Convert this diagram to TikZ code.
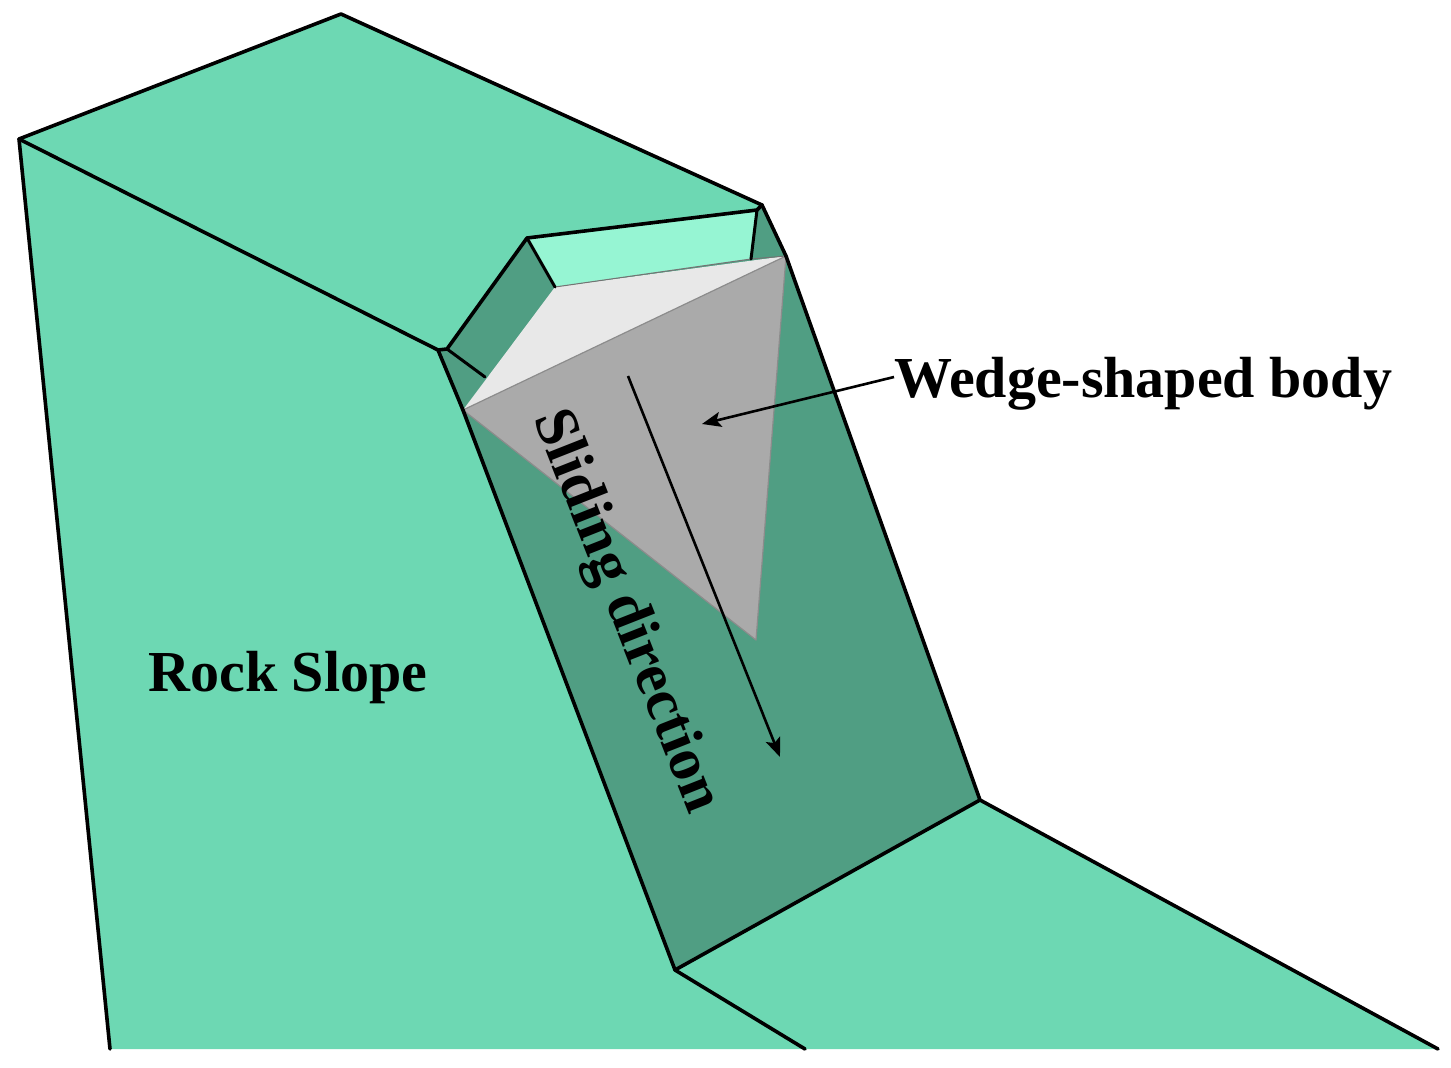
\documentclass[tikz,border=0pt]{standalone}
\usepackage{fontspec}
\setmainfont{Liberation Serif}
\usetikzlibrary{arrows.meta}
\tikzset{
  edge/.style={line width=3.6pt,black,line join=round,line cap=round},
  thinedge/.style={line width=3pt,black,line cap=round},
  lbl/.style={font=\fontsize{58}{64}\selectfont\bfseries,inner sep=0pt,text=black},
  lblrot/.style={font=\fontsize{60.5}{66}\selectfont\bfseries,inner sep=0pt,text=black},
  pointer/.style={line width=2.6pt,black,-{Stealth[length=19pt,width=15pt,inset=4pt]}},
}
\definecolor{slope}{HTML}{6DD8B3}
\definecolor{face}{HTML}{509E83}
\definecolor{bright}{HTML}{96F5D3}
\definecolor{wedgeD}{HTML}{AAAAAA}
\definecolor{wedgeL}{HTML}{E8E8E8}
\begin{document}
\begin{tikzpicture}[x=1pt,y=-1pt]
\useasboundingbox (0,0) rectangle (1451,1068);
\coordinate (A) at (19,139);
\coordinate (B) at (341,14);
\coordinate (C) at (762,205);
\coordinate (D) at (438,350);
\coordinate (E) at (980,800);
\coordinate (F) at (675,970);
\coordinate (G) at (805,1049);
\coordinate (H) at (110,1049);
\coordinate (I) at (1438,1049);
\coordinate (N1) at (527,238);
\coordinate (N2) at (757,210);
\coordinate (N3) at (751,259);
\coordinate (N4) at (555,287);
\coordinate (N5) at (447,349);
\coordinate (N6) at (485,377);
\coordinate (W1) at (463,410);
\coordinate (W2) at (786,256);
\coordinate (W3) at (756,640);
\coordinate (S1) at (628,376);
\coordinate (S2) at (780,757);
\coordinate (T1) at (702,424);
% faces
\fill[slope] (A)--(B)--(C)--(W2)--(E)--(I)--(G)--(H)--cycle;
\fill[face] (D)--(N5)--(N1)--(N2)--(C)--(W2)--(E)--(F)--cycle;
\fill[bright] (N1)--(N2)--(N3)--(N4)--cycle;
% wedge
\fill[wedgeL] (N4)--(W2)--(W1)--cycle;
\draw[black!55,line width=1pt] (N4)--(N3)--(W2);
\fill[wedgeD] (W1)--(W2)--(W3)--cycle;
\draw[black!45,line width=1.2pt,line join=round] (W1)--(W2)--(W3)--cycle;
% edges
\draw[edge] (H)--(A)--(B)--(C)--(W2);
\draw[edge] (W2)--(E)--(I);
\draw[edge] (A)--(D)--(W1);
\draw[edge] (W1)--(F)--(G);
\draw[edge] (F)--(E);
\draw[edge] (D)--(N5)--(N1)--(N2)--(C);
\draw[thinedge] (N5)--(N6);
\draw[thinedge] (N1)--(N4);
\draw[thinedge] (N2)--(N3);
% labels
\node[lbl,anchor=center] (rock) at (288,678) {Rock Slope};
\node[lblrot,anchor=center,rotate=-68.5] (slide) at (625,612) {Sliding direction};
\node[lbl,anchor=west] (wedge) at (894,384) {Wedge-shaped body};
\draw[pointer] (S1)--(S2);
\draw[pointer] ([yshift=7pt]wedge.west)--(T1);
\end{tikzpicture}
\end{document}
